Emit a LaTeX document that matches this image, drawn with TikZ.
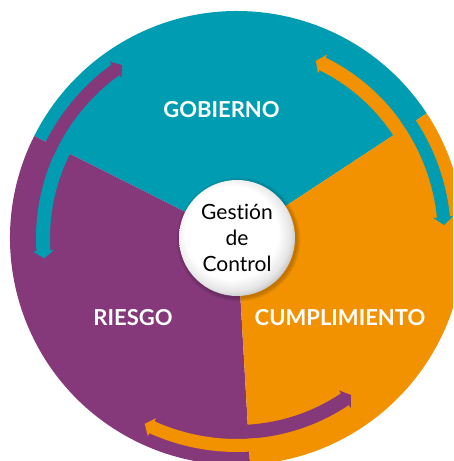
\documentclass[tikz,border=0pt]{standalone}
\usepackage{fontspec}
\setmainfont{Lato}[Ligatures=NoCommon]
\definecolor{cteal}{RGB}{0,156,178}
\definecolor{cpurple}{RGB}{133,56,122}
\definecolor{corange}{RGB}{242,146,0}
\pgfdeclareradialshading{ballshade}{\pgfpoint{-4bp}{4bp}}{color(0bp)=(white); color(20bp)=(white); color(25bp)=(black!10); color(29bp)=(black!30); color(50bp)=(black!30)}
\newcommand{\ringarrow}[6]{%
  \pgfmathsetmacro{\ramid}{(#2+#3)/2}%
  \pgfmathsetmacro{\rain}{#2-3.5}%
  \pgfmathsetmacro{\raout}{#3+3.5}%
  \fill[#1] (#4:#2pt) arc[start angle=#4,end angle=#5,radius=#2pt] -- (#5:\rain pt) -- (#6:\ramid pt) -- (#5:\raout pt) -- (#5:#3pt) arc[start angle=#5,end angle=#4,radius=#3pt] -- cycle;}
\begin{document}
\begin{tikzpicture}[x=1pt,y=1pt,
  seclabel/.style={text=white,font=\fontsize{22}{26}\selectfont\bfseries},
  core/.style={circle,minimum size=116pt,inner sep=0pt,shading=ballshade,align=center,font=\fontsize{21}{26}\selectfont}]
\useasboundingbox (0,0) rectangle (453,461);
\clip (0,0) rectangle (453,461);
\coordinate (C) at (237,223);
\begin{scope}[shift={(C)}]
  % sectors
  \fill[cteal] (0,0) -- (33.3:227pt) arc[start angle=33.3,end angle=153.3,radius=227pt] -- cycle;
  \fill[cpurple] (0,0) -- (153.3:227pt) arc[start angle=153.3,end angle=273.3,radius=227pt] -- cycle;
  \fill[corange] (0,0) -- (273.3:227pt) arc[start angle=273.3,end angle=393.3,radius=227pt] -- cycle;
  % inner band arrows (counter-clockwise)
  \ringarrow{corange}{187}{201}{31}{63.8}{66}
  \ringarrow{cteal}{187}{201}{151}{183.8}{186}
  \ringarrow{cpurple}{187}{201}{271}{303.8}{306}
  % middle band arrows (clockwise)
  \ringarrow{cteal}{201}{214}{35.5}{5.8}{3.6}
  \ringarrow{cpurple}{201}{214}{155.5}{125.8}{123.6}
  \ringarrow{corange}{201}{214}{275.5}{245.8}{243.6}
  % soft shadow of centre disc
  \foreach \k in {1,...,5} {\fill[black,opacity=0.04] (1.5,-1.5) circle[radius={(58+0.8*\k)*1pt}];}
\end{scope}
\node[core] (core) at (C) {Gestión\\de\\Control};
\node[seclabel] (gob) at (221.5,351) {GOBIERNO};
\node[seclabel] (rie) at (133,143.5) {RIESGO};
\node[seclabel] (cum) at (340,143.5) {CUMPLIMIENTO};
\end{tikzpicture}
\end{document}
